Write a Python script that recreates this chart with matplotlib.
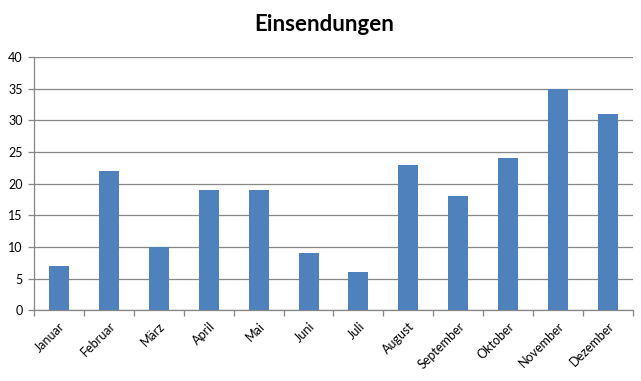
import numpy as np
import matplotlib.pyplot as plt

months = ["Januar", "Februar", "März", "April", "Mai", "Juni", "Juli",
          "August", "September", "Oktober", "November", "Dezember"]
values = [7, 22, 10, 19, 19, 9, 6, 23, 18, 24, 35, 31]
yticks = [0, 5, 10, 15, 20, 25, 30, 35, 40]

plt.rcParams['font.family'] = ['Lato', 'DejaVu Sans']

fig = plt.figure(figsize=(6.41, 3.81), dpi=100)
ax = fig.add_axes([0.053, 0.186, 0.9345, 0.664])

x = np.arange(len(months))
ax.bar(x, values, width=0.4, color='#4F81BD', zorder=3)

ax.set_xlim(-0.5, len(months) - 0.5)
ax.set_ylim(0, 40)
ax.set_yticks(yticks)
ax.grid(axis='y', color='#868686', linewidth=0.9, zorder=0)

ax.set_xticks(x)
ax.set_xticklabels(months, rotation=45, ha='right', rotation_mode='anchor')
ax.set_xticks(np.arange(len(months) + 1) - 0.5, minor=True)
ax.tick_params(axis='x', which='major', length=0, pad=7, labelsize=9)
ax.tick_params(axis='x', which='minor', length=4, color='#868686', width=0.9)
ax.tick_params(axis='y', length=4, color='#868686', width=0.9, labelsize=9, pad=4)

for s in ['top', 'right']:
    ax.spines[s].set_visible(False)
for s in ['left', 'bottom']:
    ax.spines[s].set_color('#868686')
    ax.spines[s].set_linewidth(0.9)

fig.text(0.505, 0.935, "Einsendungen", ha='center', va='center',
         fontsize=16, fontweight='bold')

fig.savefig('out.png', dpi=100)
